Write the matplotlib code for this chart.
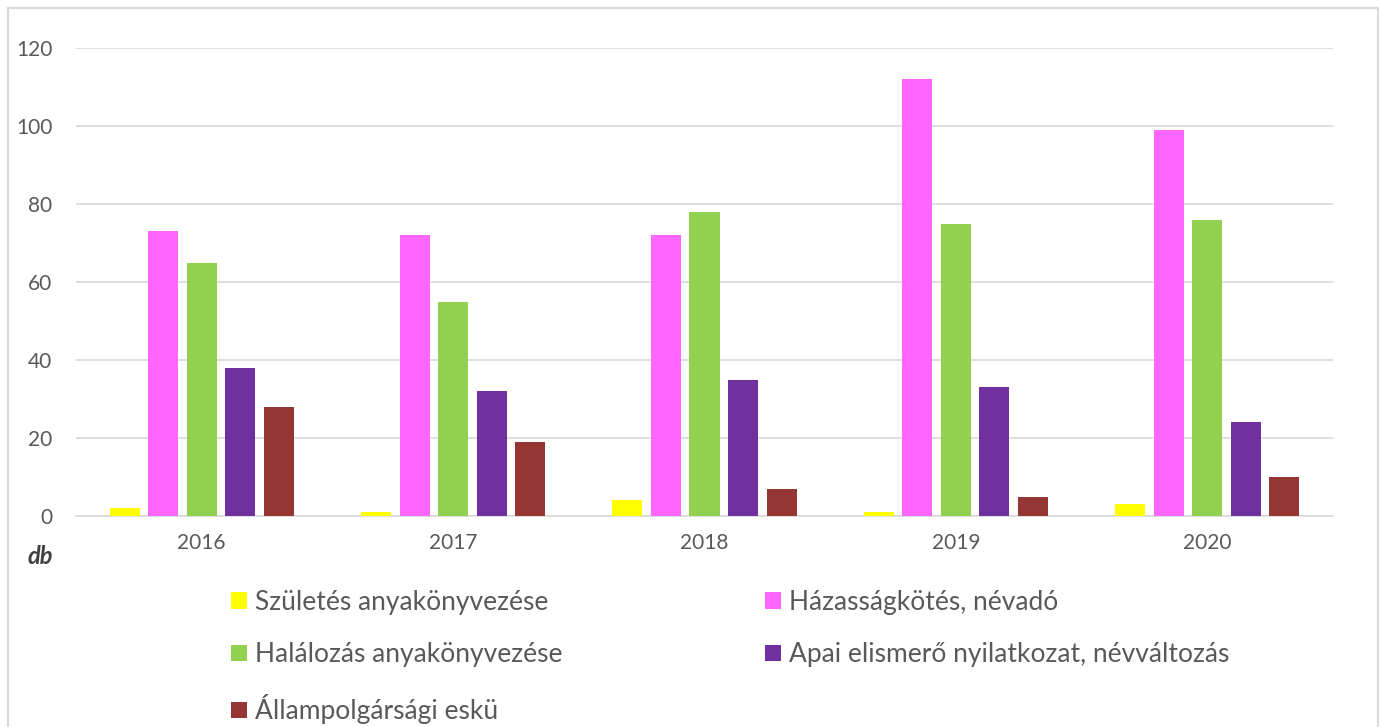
import matplotlib.pyplot as plt
import numpy as np
from matplotlib.patches import Rectangle, Patch

years = ["2016", "2017", "2018", "2019", "2020"]
series_names = [
    "Születés anyakönyvezése",
    "Házasságkötés, névadó",
    "Halálozás anyakönyvezése",
    "Apai elismerő nyilatkozat, névváltozás",
    "Állampolgársági eskü",
]
szuletes = [2, 1, 4, 1, 3]
hazassag = [73, 72, 72, 112, 99]
halalozas = [65, 55, 78, 75, 76]
apai = [38, 32, 35, 33, 24]
eskü = [28, 19, 7, 5, 10]
colors = ["#FFFF00", "#FF66FF", "#92D050", "#7030A0", "#943634"]

plt.rcParams["font.family"] = ["Lato", "DejaVu Sans"]
text_color = "#595959"

fig = plt.figure(figsize=(13.82, 7.27), dpi=100)
fig.patches.append(Rectangle((8 / 1382, -0.05), 1370 / 1382, 1 - 8 / 727 + 0.05,
                             transform=fig.transFigure, fill=False,
                             edgecolor="#D9D9D9", linewidth=1.5))

ax = fig.add_axes([76 / 1382, 1 - 516 / 727, (1333 - 76) / 1382, (516 - 48) / 727])
x = np.arange(len(years))
values = [szuletes, hazassag, halalozas, apai, eskü]
pitch = 38.5 / 251
width = 30 / 251
for i, (vals, c, name) in enumerate(zip(values, colors, series_names)):
    ax.bar(x + (i - 2) * pitch, vals, width=width, color=c, label=name, zorder=3)

ax.set_xlim(-0.5, len(years) - 0.5)
ax.set_ylim(0, 120)
ax.set_yticks(range(0, 121, 20))
ax.set_xticks(x)
ax.set_xticklabels(years)
ax.grid(axis="y", color="#D9D9D9", linewidth=1.2, zorder=0)
for s in ["top", "right", "left"]:
    ax.spines[s].set_visible(False)
ax.spines["bottom"].set_color("#D9D9D9")
ax.spines["bottom"].set_linewidth(1.2)
ax.tick_params(axis="both", length=0, labelsize=15, colors=text_color, pad=12)
ax.tick_params(axis="y", pad=17)

fig.text(40 / 1382, 1 - 556 / 727, "db", fontsize=17, fontweight="bold",
         fontstyle="italic", color="#404040", ha="center", va="center")

handles = [Patch(facecolor=c) for c in colors]
order = [0, 2, 4, 1, 3]
leg = fig.legend([handles[i] for i in order], [series_names[i] for i in order],
                 ncol=2, loc="upper left", bbox_to_anchor=(231 / 1382, 1 - 590 / 727),
                 frameon=False, fontsize=19, handlelength=0.6, handleheight=0.6,
                 handletextpad=0.3, columnspacing=7.7, labelspacing=1.03,
                 borderpad=0, borderaxespad=0, labelcolor=text_color)

fig.savefig("out.png", dpi=100)
